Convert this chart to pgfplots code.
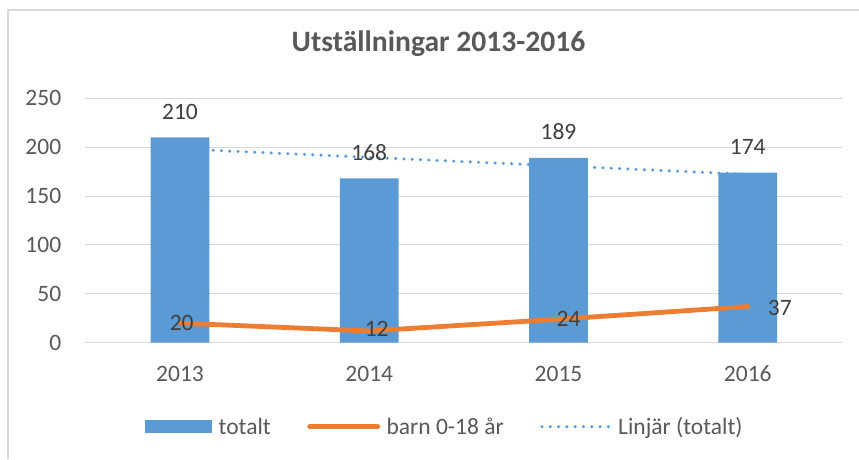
\documentclass[border=0pt]{standalone}
\usepackage{pgfplots}
\pgfplotsset{compat=1.18}
\usepackage{fontspec}
\setmainfont{Carlito}
\definecolor{barblue}{HTML}{5B9BD5}
\definecolor{lineorange}{HTML}{ED7D31}
\definecolor{gridgray}{HTML}{D9D9D9}
\definecolor{textgray}{HTML}{595959}
\definecolor{labelgray}{HTML}{404040}
\begin{document}
\begin{tikzpicture}
\useasboundingbox (0pt,0pt) rectangle (859pt,459pt);
\fill[white] (0pt,0pt) rectangle (859pt,459pt);
\draw[gridgray, line width=1.2pt] (8pt,0pt) -- (8pt,449pt) -- (859pt,449pt);
\begin{axis}[
  at={(85.4pt,116.3pt)}, anchor=south west,
  scale only axis, width=757pt, height=244.4pt,
  xmin=-0.5, xmax=3.5, ymin=0, ymax=250,
  xtick={0,1,2,3}, xticklabels={2013,2014,2015,2016},
  ytick={0,50,100,150,200,250},
  ymajorgrids, major grid style={gridgray, line width=1.1pt},
  axis line style={draw=none},
  major tick length=0pt,
  /pgf/number format/assume math mode=true,
  tick label style={font=\fontsize{23.5}{28}\selectfont, text=textgray},
  xticklabel style={anchor=north, inner sep=0pt, yshift=-23pt},
  yticklabel style={anchor=east, inner sep=0pt, xshift=-24pt},
  title={Utställningar 2013-2016},
  title style={at={(axis description cs:0.4665,1.165)}, anchor=base, inner sep=0pt,
    font=\bfseries\fontsize{29.6}{35}\selectfont, text=textgray},
  legend style={at={(axis description cs:0.0787,-0.3437)}, anchor=west,
    draw=none, fill=none, legend columns=3, inner sep=0pt,
    font=\fontsize{23.5}{28}\selectfont, text=textgray,
    /tikz/every odd column/.append style={column sep=4.5pt},
    /tikz/every even column/.append style={column sep=34.5pt}},
  legend cell align=left,
  clip=false,
]
% linear trend (behind bars)
\addplot[barblue, line width=3.4pt, line cap=round, dash pattern=on 0pt off 8.3pt, forget plot]
  coordinates {(0,198.3) (3,172.2)};
% bars
\addplot[ybar, bar width=58.7pt, fill=barblue, draw=none,
  nodes near coords,
  every node near coord/.append style={anchor=base, yshift=18pt, inner sep=0pt,
    font=\fontsize{23.5}{28}\selectfont, text=labelgray},
  legend image code/.code={\fill[barblue] (0pt,-6.7pt) rectangle (67pt,6.7pt);}]
  coordinates {(0,210) (1,168) (2,189) (3,174)};
\addlegendentry{totalt}
% barn line
\addplot[lineorange, line width=4.8pt, line cap=round, line join=round, mark=none,
  nodes near coords,
  visualization depends on={\thisrow{dx} \as \dx},
  visualization depends on={\thisrow{dy} \as \dy},
  every node near coord/.append style={anchor=center, inner sep=0pt,
    xshift=\dx pt, yshift=\dy pt,
    font=\fontsize{23.5}{28}\selectfont, text=labelgray},
  legend image code/.code={\draw[lineorange, line width=4.8pt, line cap=round] (2pt,0pt) -- (70pt,0pt);}]
  table {
x y dx dy
0 20 1.7 0
1 12 7.4 2
2 24 10 0
3 37 32 -1
};
\addlegendentry{barn 0-18 år}
% legend entry for the trend line
\addlegendimage{barblue, line width=3.4pt, line cap=round, dash pattern=on 0pt off 8.3pt,
  legend image code/.code={\draw[barblue, line width=3.4pt, line cap=round, dash pattern=on 0pt off 8.3pt] (2pt,0pt) -- (70pt,0pt);}}
\addlegendentry{Linjär (totalt)}
\end{axis}
\end{tikzpicture}
\end{document}
